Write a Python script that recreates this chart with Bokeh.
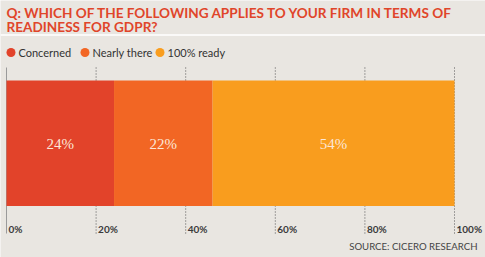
import numpy as np
from bokeh.plotting import figure
from bokeh.models import Range1d
from bokeh.core.properties import value
from bokeh.embed import file_html
from bokeh.resources import INLINE

# ---- data ----
categories = ["Concerned", "Nearly there", "100% ready"]
shares = [24, 22, 54]
colors = ["#E2432A", "#F26624", "#F99D1E"]
tick_values = [0, 20, 40, 60, 80, 100]
tick_labels = ["0%", "20%", "40%", "60%", "80%", "100%"]
title_lines = ["Q: WHICH OF THE FOLLOWING APPLIES TO YOUR FIRM IN TERMS OF",
               "READINESS FOR GDPR?"]
source_text = "SOURCE: CICERO RESEARCH"

# ---- layout (pixels) ----
W, H = 485, 257
BG = "#E9E6E1"
TITLE_COLOR = "#E0452A"
X0_PX, X100_PX = 6, 454
scale = (X100_PX - X0_PX) / 100.0
x_start = -X0_PX / scale
x_end = (W - X0_PX) / scale


def px(xp):
    return (xp - X0_PX) / scale


p = figure(width=W, height=H, x_range=Range1d(x_start, x_end), y_range=Range1d(H, 0),
           output_backend="svg", toolbar_location=None, x_axis_type=None, y_axis_type=None,
           min_border=0, background_fill_color=BG, border_fill_color=BG,
           outline_line_color=None)

# title
p.text(x=[px(6)] * 2, y=[12.5, 26.5], text=title_lines, text_font=value("Lato"),
       text_font_style="bold", text_font_size="13.6px", text_color=TITLE_COLOR,
       text_baseline="middle", text_align="left")

# separator
p.segment(x0=[x_start], x1=[x_end], y0=[34.5], y1=[34.5], line_color="white", line_width=1.5)

# legend
legend_px = [10.5, 84.5, 159.5]
p.scatter(x=[px(v) for v in legend_px], y=[52] * 3, size=9, color=colors, line_color=None)
p.text(x=[px(v + 7.5) for v in legend_px], y=[52] * 3, text=categories,
       text_font=value("Lato"), text_font_size="11px", text_color="#333333",
       text_baseline="middle", text_align="left")

# gridlines
p.segment(x0=[tick_values[0]], x1=[tick_values[0]], y0=[67], y1=[233],
          line_color="#9a9a9a", line_width=1)
p.segment(x0=tick_values[1:], x1=tick_values[1:], y0=[67] * 5, y1=[233] * 5,
          line_color="#555555", line_width=1, line_dash="1 2")

# bars
vals = np.array(shares, dtype=float)
rights = np.cumsum(vals)
lefts = rights - vals
p.hbar(y=[142.75] * 3, height=125.5, left=lefts, right=rights, color=colors, line_color=None)
mids = (lefts + rights) / 2
p.text(x=mids, y=[143.5] * 3, text=[f"{int(v)}%" for v in shares],
       text_font=value("Liberation Serif"), text_font_size="15px", text_color="#FCE6D6",
       text_baseline="middle", text_align="center")

# tick labels
p.text(x=tick_values, y=[228] * 6, x_offset=2, text=tick_labels, text_font=value("Lato"),
       text_font_style="bold", text_font_size="10px", text_color="#3a3a3a",
       text_baseline="middle", text_align="left")

# source
p.text(x=[px(477)], y=[245.5], text=[source_text], text_font=value("Lato"),
       text_font_size="9.6px", text_color="#444444", text_baseline="middle", text_align="right")

open("out.html", "w").write(file_html(p, INLINE))
